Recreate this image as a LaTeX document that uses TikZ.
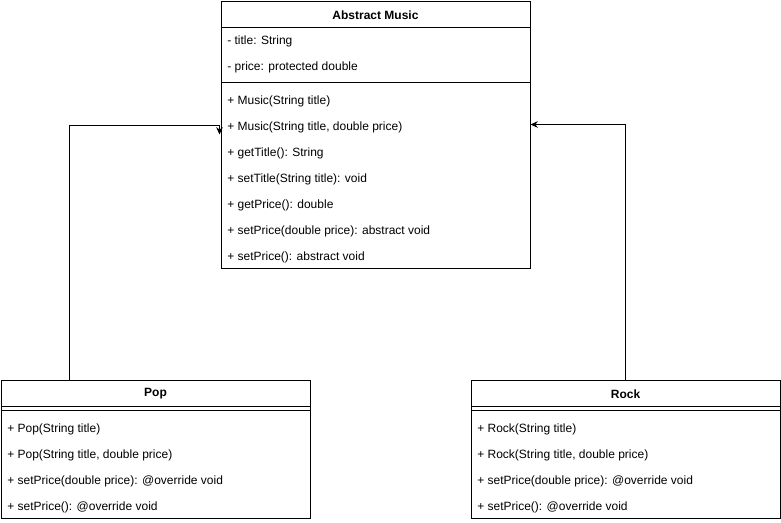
\documentclass[tikz,border=0pt]{standalone}
\usepackage{fontspec}
\setmainfont{Liberation Sans}
\usetikzlibrary{arrows.meta}
\begin{document}
\begin{tikzpicture}[x=0.75pt,y=-0.75pt,
  box/.style={draw=black,line width=0.75pt,fill=white,inner sep=0pt,minimum width=231.75pt},
  lbl/.style={anchor=west,inner sep=0pt,font=\fontsize{9}{11}\selectfont},
  ttl/.style={inner sep=0pt,font=\fontsize{9}{11}\selectfont\bfseries},
  sep/.style={line width=0.75pt},
  conn/.style={line width=0.75pt,-{Stealth[length=5.5pt,width=5pt]}}]
\useasboundingbox (0,0) rectangle (781,522);
% boxes
\node[box,minimum height=200.25pt] (am) at (375.5,134.5) {};
\node[box,minimum height=103.5pt] (pop) at (155.5,449) {};
\node[box,minimum height=103.5pt] (rock) at (625.5,449) {};
% separators
\draw[sep] (221,27) -- (530,27);
\draw[sep] (221,82) -- (530,82);
\draw[sep] (1,406) -- (310,406);
\draw[sep] (1,410) -- (310,410);
\draw[sep] (471,406) -- (780,406);
\draw[sep] (471,410) -- (780,410);
% Abstract Music texts
\node[ttl] (amt) at (375.5,15) {Abstract Music};
\node[lbl] (am1) at (227,41) {- title: String};
\node[lbl] (am2) at (227,67) {- price: protected double};
\node[lbl] (am3) at (227,101) {+ Music(String title)};
\node[lbl] (am4) at (227,127) {+ Music(String title, double price)};
\node[lbl] (am5) at (227,153) {+ getTitle(): String};
\node[lbl] (am6) at (227,179) {+ setTitle(String title): void};
\node[lbl] (am7) at (227,205) {+ getPrice(): double};
\node[lbl] (am8) at (227,231) {+ setPrice(double price): abstract void};
\node[lbl] (am9) at (227,257) {+ setPrice(): abstract void};
% Pop texts
\node[ttl] (popt) at (155.5,394) {Pop};
\node[lbl] (p1) at (7,429) {+ Pop(String title)};
\node[lbl] (p2) at (7,455) {+ Pop(String title, double price)};
\node[lbl] (p3) at (7,481) {+ setPrice(double price): @override void};
\node[lbl] (p4) at (7,507) {+ setPrice(): @override void};
% Rock texts
\node[ttl] (rockt) at (625.5,394) {Rock};
\node[lbl] (r1) at (477,429) {+ Rock(String title)};
\node[lbl] (r2) at (477,455) {+ Rock(String title, double price)};
\node[lbl] (r3) at (477,481) {+ setPrice(double price): @override void};
\node[lbl] (r4) at (477,507) {+ setPrice(): @override void};
% connectors
\coordinate (popc) at ([xshift=51.75pt]pop.north west);
\coordinate (amlc) at ([yshift=-93.75pt,xshift=-0.75pt]am.north west);
\coordinate (amld) at ([yshift=-100.5pt,xshift=-0.75pt]am.north west);
\draw[conn] (popc) -- (popc |- amlc) -- (amlc) -- (amld);
\coordinate (rockc) at ([xshift=-116.25pt]rock.north east);
\coordinate (amrc) at ([yshift=-93pt]am.north east);
\draw[conn] (rockc) -- (rockc |- amrc) -- (amrc);
\end{tikzpicture}
\end{document}
